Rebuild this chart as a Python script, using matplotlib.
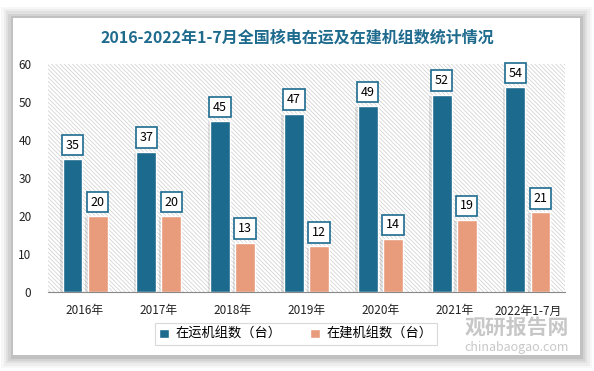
import matplotlib.pyplot as plt
import numpy as np
from matplotlib.patches import Rectangle

plt.rcParams['font.family'] = ['Noto Sans CJK SC', 'DejaVu Sans']
plt.rcParams['hatch.color'] = '#cdcdcd'
plt.rcParams['hatch.linewidth'] = 0.5

years = ['2016年', '2017年', '2018年', '2019年', '2020年', '2021年', '2022年1-7月']
running = [35, 37, 45, 47, 49, 52, 54]
building = [20, 20, 13, 12, 14, 19, 21]

blue = '#1c6b8f'
orange = '#e89c7c'

fig = plt.figure(figsize=(5.94, 3.71), dpi=100)
fig.patch.set_facecolor('white')

# card with soft shadow
for i, a in enumerate([0.03, 0.04, 0.05, 0.06, 0.08]):
    d = (5 - i) * 0.004
    fig.patches.append(Rectangle((0.022 - d, 0.04 - d * 1.6), 0.955 + 2 * d, 0.91 + d * 3.2,
                                 transform=fig.transFigure, facecolor='black', alpha=a,
                                 edgecolor='none', zorder=0))
fig.patches.append(Rectangle((0.022, 0.043), 0.955, 0.908, transform=fig.transFigure,
                             facecolor='white', edgecolor='none', zorder=1))

fig.text(0.5, 0.9, '2016-2022年1-7月全国核电在运及在建机组数统计情况', ha='center', va='center',
         fontsize=11.5, fontweight='bold', color='#1f6b8e', zorder=5)

ax = fig.add_axes([0.081, 0.213, 0.87, 0.614])
ax.set_facecolor('none')
ax.set_zorder(3)

x = np.arange(len(years))
w = 0.27
off = 0.17
ax.add_patch(Rectangle((-0.5, 0), len(years), 60, facecolor='white', hatch='\\\\\\\\\\\\\\\\',
                       edgecolor='#cdcdcd', lw=0, zorder=0))

# bar shadows
ax.bar(x - off - 0.035, running, w, bottom=-0.3, color='#000000', alpha=0.1, zorder=1)
ax.bar(x + off - 0.035, building, w, bottom=-0.3, color='#000000', alpha=0.1, zorder=1)

ax.bar(x - off, running, w, color=blue, edgecolor='white', lw=1, zorder=2, label='在运机组数（台）')
ax.bar(x + off, building, w, color=orange, edgecolor='white', lw=1, zorder=2, label='在建机组数（台）')

box = dict(boxstyle='square,pad=0.3', facecolor='white', edgecolor=blue, lw=1.2)
for xi, v in zip(x, running):
    ax.annotate(str(v), (xi - off, v), xytext=(0, 10), textcoords='offset points',
                ha='center', va='center', fontsize=9, bbox=box, zorder=4)
for xi, v in zip(x, building):
    ax.annotate(str(v), (xi + off, v), xytext=(0, 10), textcoords='offset points',
                ha='center', va='center', fontsize=9, bbox=box, zorder=4)

ax.set_xlim(-0.5, len(years) - 0.5)
ax.set_ylim(0, 60)
ax.set_yticks(range(0, 61, 10))
ax.set_xticks(x)
ax.set_xticklabels(years)
ax.tick_params(axis='both', length=0, labelsize=8.5, colors='#222222')
ax.tick_params(axis='x', pad=9)
ax.tick_params(axis='y', pad=12)
for s in ['top', 'right', 'left']:
    ax.spines[s].set_visible(False)
ax.spines['bottom'].set_color('#888888')

leg = fig.legend(loc='center', bbox_to_anchor=(0.498, 0.099), ncol=2, frameon=True,
                 fontsize=9.5, handlelength=0.7, handleheight=0.7, handletextpad=0.5,
                 columnspacing=2.2, fancybox=False, borderpad=0.35)
leg.get_frame().set_edgecolor('#d0d0d0')
leg.get_frame().set_linewidth(0.8)
leg.set_zorder(5)

# watermark
fig.text(0.87, 0.118, '观研报告网', ha='center', va='center', fontsize=15, fontweight='bold',
         color='#b0b0b0', alpha=0.7, zorder=6)
fig.text(0.87, 0.062, 'chinabaogao.com', ha='center', va='center', fontsize=9,
         color='#b0b0b0', alpha=0.7, zorder=6)

fig.savefig('out.png', dpi=100)
